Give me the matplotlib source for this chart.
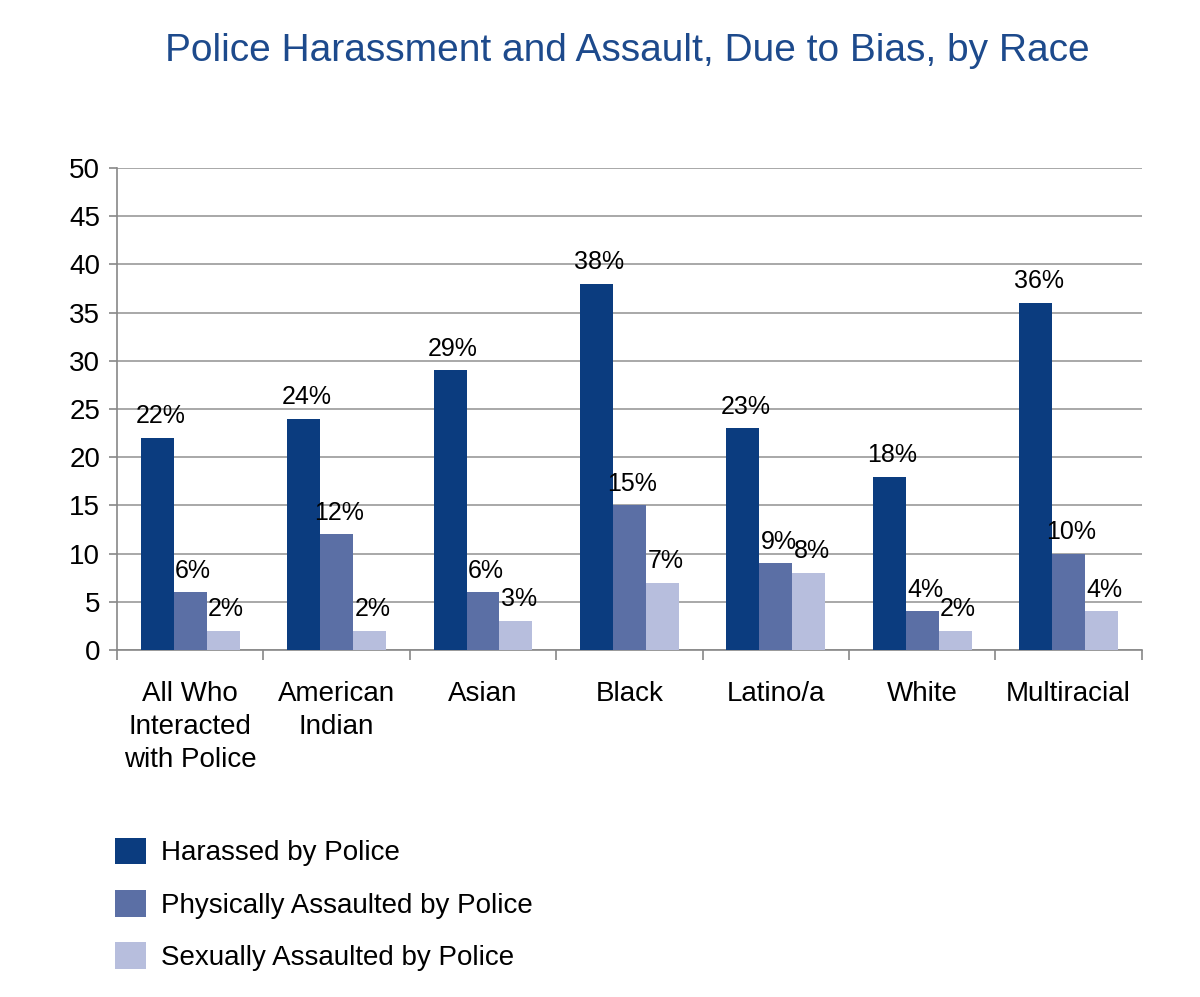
import numpy as np
import matplotlib.pyplot as plt
from matplotlib.patches import Patch

# data
categories = ['All Who\nInteracted\nwith Police', 'American\nIndian', 'Asian', 'Black',
              'Latino/a', 'White', 'Multiracial']
harassed = [22, 24, 29, 38, 23, 18, 36]
physical = [6, 12, 6, 15, 9, 4, 10]
sexual = [2, 2, 3, 7, 8, 2, 4]
series_names = ['Harassed by Police', 'Physically Assaulted by Police',
                'Sexually Assaulted by Police']
colors = ['#0B3C7F', '#5B6FA5', '#B7BEDD']

# no condensed face available, so a narrower sans stands in
narrow = ['Liberation Sans', 'DejaVu Sans']

fig = plt.figure(figsize=(12, 9.97), dpi=100)
ax = fig.add_axes([0.0975, 0.348, 0.854, 0.4835])

x = np.arange(len(categories))
w = 0.225
for i, (vals, c) in enumerate(zip([harassed, physical, sexual], colors)):
    pos = x - w + i * w
    bars = ax.bar(pos, vals, width=w, color=c, zorder=3)
    for b, v in zip(bars, vals):
        ax.text(b.get_x() + b.get_width() / 2 + 0.02, v + 1.0, f'{v}%',
                ha='center', va='bottom', fontsize=18, family=narrow)

ax.set_xlim(-0.5, len(categories) - 0.5)
ax.set_ylim(0, 50)
ax.set_yticks(range(0, 51, 5))
ax.set_yticklabels([str(t) for t in range(0, 51, 5)], fontsize=20, family=narrow)
ax.yaxis.grid(True, color='#999999', linewidth=1.2, zorder=0)
ax.set_axisbelow(True)

# category labels centered, tick marks at group boundaries
ax.set_xticks(x)
ax.set_xticklabels(categories, fontsize=20, family=narrow, linespacing=1.35, va='top')
ax.tick_params(axis='x', length=0, pad=22)
ax.set_xticks(np.arange(-0.5, len(categories)), minor=True)
ax.tick_params(axis='x', which='minor', length=7, color='#888888', width=1.2)
ax.tick_params(axis='y', length=6, color='#888888', width=1.2, pad=6)

for s in ['top', 'right']:
    ax.spines[s].set_visible(False)
for s in ['left', 'bottom']:
    ax.spines[s].set_color('#888888')
    ax.spines[s].set_linewidth(1.2)

fig.text(0.523, 0.949, 'Police Harassment and Assault, Due to Bias, by Race',
         ha='center', va='center', fontsize=28, color='#1D4A8C',
         family=['Liberation Sans', 'DejaVu Sans'])

handles = [Patch(facecolor=c) for c in colors]
fig.legend(handles, series_names, loc='upper left', bbox_to_anchor=(0.075, 0.185),
           frameon=False, prop={'family': narrow, 'size': 20},
           handlelength=1.1, handleheight=1.1, handletextpad=0.55, labelspacing=0.85)

fig.savefig('out.png', dpi=100, facecolor='white')
